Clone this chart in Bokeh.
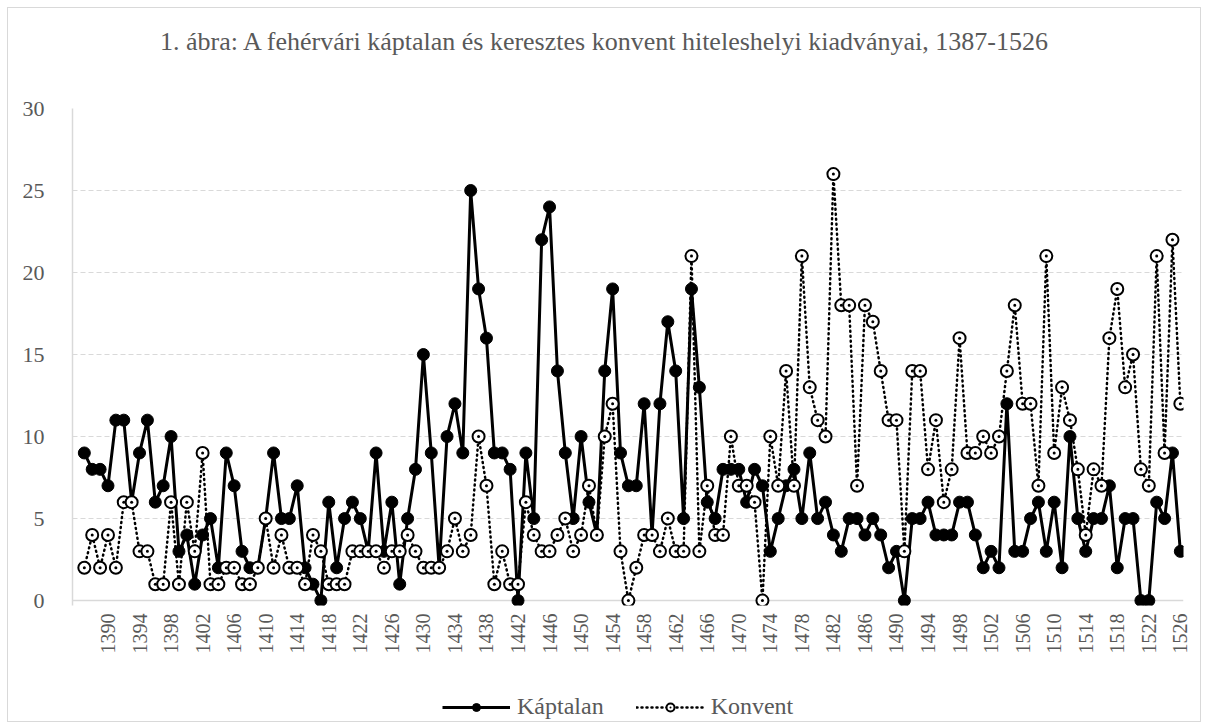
import math
from bokeh.plotting import figure
from bokeh.layouts import column
from bokeh.models import Range1d, FixedTicker, Span, Legend, LegendItem, Div
from bokeh.embed import file_html
from bokeh.resources import INLINE

years = list(range(1387, 1527))
kaptalan = [
    9, 8, 8, 7, 11, 11, 6, 9, 11, 6,
    7, 10, 3, 4, 1, 4, 5, 2, 9, 7,
    3, 2, 2, 5, 9, 5, 5, 7, 2, 1,
    0, 6, 2, 5, 6, 5, 3, 9, 3, 6,
    1, 5, 8, 15, 9, 2, 10, 12, 9, 25,
    19, 16, 9, 9, 8, 0, 9, 5, 22, 24,
    14, 9, 5, 10, 6, 4, 14, 19, 9, 7,
    7, 12, 4, 12, 17, 14, 5, 19, 13, 6,
    5, 8, 8, 8, 6, 8, 7, 3, 5, 7,
    8, 5, 9, 5, 6, 4, 3, 5, 5, 4,
    5, 4, 2, 3, 0, 5, 5, 6, 4, 4,
    4, 6, 6, 4, 2, 3, 2, 12, 3, 3,
    5, 6, 3, 6, 2, 10, 5, 3, 5, 5,
    7, 2, 5, 5, 0, 0, 6, 5, 9, 3,
]
konvent = [
    2, 4, 2, 4, 2, 6, 6, 3, 3, 1,
    1, 6, 1, 6, 3, 9, 1, 1, 2, 2,
    1, 1, 2, 5, 2, 4, 2, 2, 1, 4,
    3, 1, 1, 1, 3, 3, 3, 3, 2, 3,
    3, 4, 3, 2, 2, 2, 3, 5, 3, 4,
    10, 7, 1, 3, 1, 1, 6, 4, 3, 3,
    4, 5, 3, 4, 7, 4, 10, 12, 3, 0,
    2, 4, 4, 3, 5, 3, 3, 21, 3, 7,
    4, 4, 10, 7, 7, 6, 0, 10, 7, 14,
    7, 21, 13, 11, 10, 26, 18, 18, 7, 18,
    17, 14, 11, 11, 3, 14, 14, 8, 11, 6,
    8, 16, 9, 9, 10, 9, 10, 14, 18, 12,
    12, 7, 21, 9, 13, 11, 8, 4, 8, 7,
    16, 19, 13, 15, 8, 7, 21, 9, 22, 12,
]
tick_years = list(range(1390, 1527, 4))
y_ticks = [0, 5, 10, 15, 20, 25, 30]
title_text = "1. ábra: A fehérvári káptalan és keresztes konvent hiteleshelyi kiadványai, 1387-1526"
series_names = ["Káptalan", "Konvent"]

FONT = "Liberation Serif"
GRAY = "#595959"

title_div = Div(text=title_text, width=1192, height=68, margin=0,
                styles={"font-family": FONT, "font-size": "26px", "color": GRAY,
                        "text-align": "center", "line-height": "68px",
                        "white-space": "nowrap"})

p = figure(frame_width=1111, frame_height=497, output_backend="svg", toolbar_location=None,
           x_range=Range1d(1385.5, 1526.4), y_range=Range1d(-0.3, 30),
           min_border_left=64, min_border_right=17, min_border_top=32,
           min_border_bottom=80)

p.outline_line_color = None
p.xgrid.grid_line_color = None
p.ygrid.grid_line_color = "#d9d9d9"
p.ygrid.grid_line_dash = "5 3"
p.ygrid.grid_line_width = 1

axis0 = Span(location=0, dimension="width", line_color="#d9d9d9", line_width=1.5,
             level="underlay")
p.add_layout(axis0)

style_k_line = dict(line_color="black", line_width=3)
style_k_mark = dict(marker="circle", size=12, fill_color="black", line_color="black")
style_v_line = dict(line_color="black", line_width=2.5, line_dash="1 4", line_cap="round")
style_v_mark = dict(marker="circle_dot", size=12, fill_color="white", line_color="black",
                    line_width=2)

p.line(years, kaptalan, **style_k_line)
p.scatter(years, kaptalan, **style_k_mark)
p.line(years, konvent, **style_v_line)
p.scatter(years, konvent, **style_v_mark)

p.xaxis.ticker = FixedTicker(ticks=tick_years)
p.xaxis.major_label_orientation = math.pi / 2
p.xaxis.axis_line_color = None
p.xaxis.major_tick_line_color = None
p.xaxis.minor_tick_line_color = None
p.xaxis.major_tick_out = 0
p.xaxis.major_tick_in = 0
p.xaxis.major_label_text_font = FONT
p.xaxis.major_label_text_font_size = "20px"
p.xaxis.major_label_text_color = GRAY
p.xaxis.major_label_standoff = 8

p.yaxis.ticker = FixedTicker(ticks=y_ticks)
p.yaxis.axis_line_color = "#d9d9d9"
p.yaxis.axis_line_width = 1.5
p.yaxis.major_tick_line_color = None
p.yaxis.minor_tick_line_color = None
p.yaxis.major_label_text_font = FONT
p.yaxis.major_label_text_font_size = "22px"
p.yaxis.major_label_text_color = GRAY
p.yaxis.major_label_standoff = 22

# legend in its own strip; its renderers use the same data, outside the strip's view
lg = figure(width=1192, height=36, output_backend="svg", toolbar_location=None,
            x_range=Range1d(0, 1), y_range=Range1d(0, 1),
            x_axis_type=None, y_axis_type=None,
            min_border_left=0, min_border_right=0, min_border_top=0, min_border_bottom=0)
lg.grid.visible = False
lg.outline_line_color = None
kl = lg.line(years, kaptalan, **style_k_line)
ks = lg.scatter(years, kaptalan, **style_k_mark)
vl = lg.line(years, konvent, **style_v_line)
vs = lg.scatter(years, konvent, **style_v_mark)

legend = Legend(items=[LegendItem(label=series_names[0], renderers=[kl, ks]),
                       LegendItem(label=series_names[1], renderers=[vl, vs])],
                orientation="horizontal", location=(370, 1),
                border_line_color=None, background_fill_alpha=0,
                label_text_font=FONT, label_text_font_size="24px",
                label_text_color=GRAY, glyph_width=68, glyph_height=20,
                spacing=32, label_standoff=7, padding=0, margin=0)
lg.add_layout(legend, "center")

layout = column(title_div, p, lg, spacing=0)
layout.styles = {"margin-left": "8px", "margin-top": "8px",
                 "outline": "1px solid #d9d9d9"}

open("out.html", "w").write(file_html(layout, INLINE))
